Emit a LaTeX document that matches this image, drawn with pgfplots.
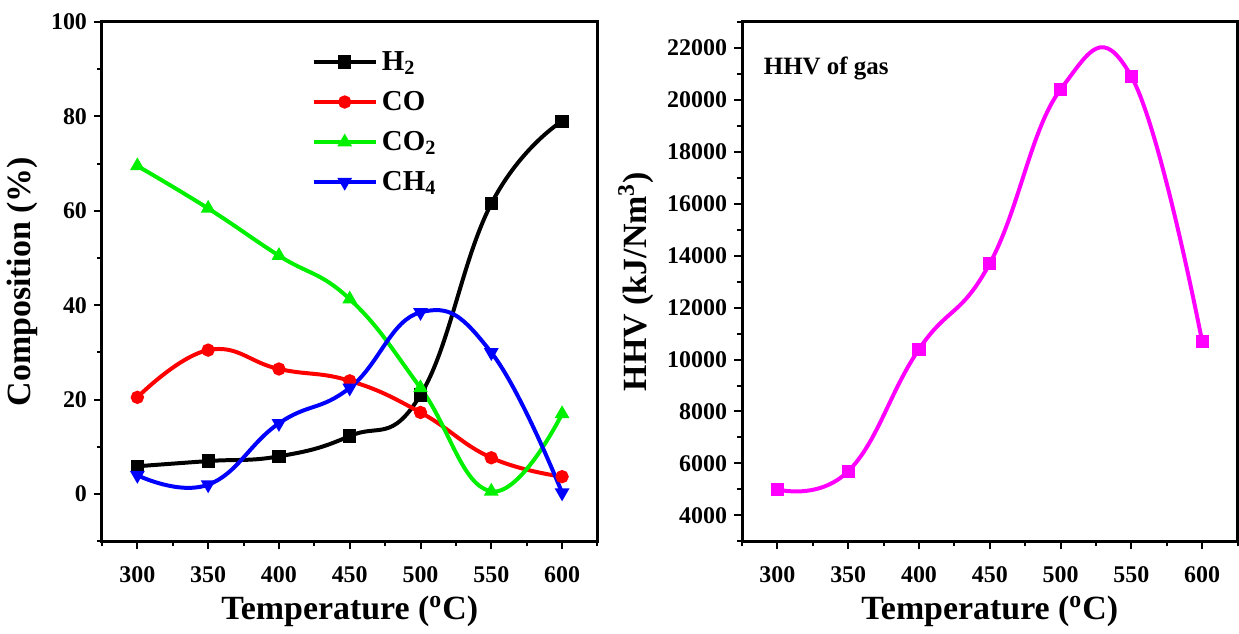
\documentclass[border=0pt]{standalone}
\usepackage{fontspec}
\setmainfont{Liberation Serif}
\usepackage{pgfplots}
\pgfplotsset{compat=1.18}
\definecolor{cred}{RGB}{255,0,0}
\definecolor{cgreen}{RGB}{0,240,0}
\definecolor{cblue}{RGB}{0,0,255}
\definecolor{cmag}{RGB}{255,0,255}

\pgfplotsset{
  originstyle/.style={
    scale only axis,
    width=248.5pt, height=260.5pt,
    axis line style={line width=1.5pt},
    tick align=outside,
    xtick pos=bottom, ytick pos=left,
    major tick length=4pt, minor tick length=2.5pt,
    every tick/.style={line width=1pt, black},
    /pgf/number format/assume math mode=true,
    /pgf/number format/1000 sep={},
    scaled y ticks=false,
    tick label style={font=\bfseries\fontsize{12}{13}\selectfont},
    xticklabel style={yshift=-5pt},
    label style={font=\bfseries\fontsize{17}{20}\selectfont},
    xmin=275, xmax=625,
    xtick={300,350,...,600},
    minor xtick={275,325,...,625},
    xlabel={Temperature (\textsuperscript{o}C)},
    xlabel style={yshift=0pt},
  },
  ser/.style={line width=2pt, smooth, tension=0.75, mark size=2.3pt},
}

\begin{document}
\begin{tikzpicture}
\begin{axis}[
  originstyle,
  ymin=-10, ymax=100,
  ytick={0,20,...,100},
  minor ytick={-10,10,...,90},
  ylabel={Composition (\%)},
  legend style={at={(0.41,0.96)}, anchor=north west, draw=none, fill=none,
    font=\bfseries\fontsize{14.5}{16}\selectfont, row sep=5pt},
  legend cell align=left,
  legend image code/.code={
    \draw[mark repeat=2, mark phase=2] plot coordinates {(0cm,0cm) (0.55cm,0cm) (1.1cm,0cm)};},
]
\addplot[ser, black, mark=square*] coordinates {
  (300,5.9) (350,7.0) (400,8.0) (450,12.3) (500,21.0) (550,61.5) (600,79.0)};
\addlegendentry{H\textsubscript{2}}
\addplot[ser, cred, mark=*] coordinates {
  (300,20.5) (350,30.5) (400,26.5) (450,24.0) (500,17.3) (550,7.7) (600,3.7)};
\addlegendentry{CO}
\addplot[ser, cgreen, mark=triangle*] coordinates {
  (300,69.5) (350,60.5) (400,50.5) (450,41.3) (500,22.5) (550,0.6) (600,17.0)};
\addlegendentry{CO\textsubscript{2}}
\addplot[ser, cblue, mark=triangle*, mark options={rotate=180}] coordinates {
  (300,4.0) (350,2.0) (400,15.0) (450,22.5) (500,38.5) (550,30.0) (600,0.3)};
\addlegendentry{CH\textsubscript{4}}
\end{axis}

\begin{axis}[
  originstyle,
  at={(321pt,0pt)},
  ymin=3000, ymax=23000,
  ytick={4000,6000,...,22000},
  minor ytick={3000,5000,...,23000},
  ylabel={HHV (kJ/Nm\textsuperscript{3})},
]
\addplot[ser, cmag, mark=square*] coordinates {
  (300,5000) (350,5700) (400,10400) (450,13700) (500,20400) (550,20900) (600,10700)};
\node[anchor=west, font=\bfseries\fontsize{12.5}{14}\selectfont] at (rel axis cs:0.03,0.91) {HHV of gas};
\end{axis}
\path (0,271.5pt);
\end{tikzpicture}
\end{document}
